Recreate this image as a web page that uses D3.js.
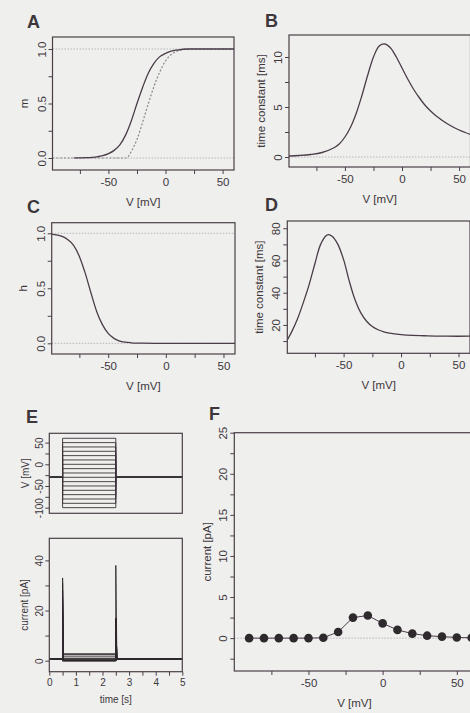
<!DOCTYPE html>
<html><head><meta charset="utf-8">
<script src="https://cdn.jsdelivr.net/npm/d3@7"></script>
<style>
body{margin:0;background:#efefed}
svg{display:block}
text{font-family:"Liberation Sans",Arial,Helvetica,sans-serif;fill:#3d373c}
</style>
</head><body><svg id="c" width="470" height="713"></svg>
<script>
// ---------- DATA ----------
// Panel A: activation m (solid = steady state, dotted = second curve)
const mSolidV   = [-80,-70,-60,-55,-50,-45,-40,-35,-30,-25,-20,-15,-10,-5,0,5,10,20,30,40,60];
const mSolidVal = [0.001,0.003,0.011,0.021,0.04,0.07,0.12,0.21,0.34,0.5,0.65,0.78,0.87,0.93,0.96,0.98,0.99,1.0,1.0,1.0,1.0];
const mDotV     = [-99,-35,-33,-30,-25,-20,-15,-10,-5,0,5,10,15,20,40,60];
const mDotVal   = [0,0,0.01,0.06,0.17,0.33,0.50,0.66,0.79,0.89,0.95,0.98,0.995,1.0,1.0,1.0];
// Panel B: activation time constant [ms]
const tauMV   = [-99,-90,-80,-70,-60,-55,-50,-45,-40,-35,-30,-25,-20,-15,-10,-5,0,5,10,15,20,25,30,40,50,60];
const tauMVal = [0.1,0.15,0.25,0.45,0.9,1.3,2.0,3.0,4.4,6.2,8.2,10.0,11.1,11.3,10.9,10.0,8.9,7.8,6.8,5.95,5.2,4.6,4.1,3.3,2.7,2.25];
// Panel C: inactivation h
const hV   = [-99,-95,-90,-85,-80,-75,-70,-65,-60,-55,-50,-45,-40,-35,-30,-20,-10,0,60];
const hVal = [0.993,0.986,0.971,0.942,0.89,0.79,0.64,0.46,0.29,0.17,0.09,0.045,0.02,0.01,0.005,0.001,0,0,0];
// Panel D: inactivation time constant [ms]
const tauHV   = [-99,-95,-90,-85,-80,-75,-70,-65,-63,-60,-55,-50,-45,-40,-35,-30,-25,-20,-15,-10,0,10,20,30,40,60];
const tauHVal = [10.7,16,24,34,45,58,70,75.5,76,75,70,60.5,47,35.5,27.5,22.3,19,17,15.7,14.9,14.0,13.5,13.3,13.1,13,13];
// Panel E: voltage-clamp protocol and currents
const eStepV     = [-100,-90,-80,-70,-60,-50,-40,-30,-20,-10,0,10,20,30,40,50,60];
const eSteadyI   = [0,0,0,0,0,0,0.05,0.75,2.5,2.75,1.8,1.0,0.55,0.3,0.18,0.08,0.04];
const eOnPeak    = [0,0,0,0,0,0,0.5,2,6,10,14,18,22,25,28,31,33];
const eOffPeak   = [0,0,0,0,0,0,0.7,4,9,13,15,16,17,17,17,17,38];
const eHoldV = -30, eHoldI = 0.7;
const eTimes = [0, 0.5, 2.5, 5];   // start, step on, step off, end [s]
// Panel F: steady-state current vs voltage
const fV = [-90,-80,-70,-60,-50,-40,-30,-20,-10,0,10,20,30,40,50,60];
const fI = [0,0,0,0,0,0.05,0.75,2.5,2.75,1.8,1.0,0.55,0.3,0.18,0.08,0.04];
// Tick values
const vTicks = [-75,-50,-25,0,25,50], vLabels = [-50,0,50];

// ---------- DRAW ----------
const FR = "#4a3f47", LN = "#4a3d48", TX = "#3d373c", REF = "#b9b5b9";
const svg = d3.select("#c");
svg.append("rect").attr("width",470).attr("height",713).attr("fill","#efefed");

function panel(o){
  const x = d3.scaleLinear().domain(o.xd).range([o.l,o.r]);
  const y = d3.scaleLinear().domain(o.yd).range([o.b,o.t]);
  const cid = "clip-"+o.id;
  svg.append("clipPath").attr("id",cid).append("rect")
    .attr("x",o.l).attr("y",o.t).attr("width",o.r-o.l).attr("height",o.b-o.t);
  const plot = svg.append("g").attr("clip-path",`url(#${cid})`);
  const fs = o.fs || 11.5;
  const xf = o.xf || (d=>String(d));
  const yf = o.yf || (d=>String(d));
  const xg = svg.append("g").attr("transform",`translate(0,${o.b})`)
    .call(d3.axisBottom(x).tickValues(o.xt).tickSize(4).tickPadding(o.xpad||4)
      .tickFormat(d=>o.xl.includes(d)?xf(d):""));
  xg.select(".domain").remove();
  xg.selectAll("line").attr("stroke",FR);
  xg.selectAll("text").style("font-size",fs+"px").attr("fill",TX);
  const yg = svg.append("g").attr("transform",`translate(${o.l},0)`)
    .call(d3.axisLeft(y).tickValues(o.yt).tickSize(4)
      .tickFormat(d=>o.yl.includes(d)?yf(d):""));
  yg.select(".domain").remove();
  yg.selectAll("line").attr("stroke",FR);
  yg.selectAll("text").attr("transform","rotate(-90)").attr("x",0).attr("y",-(o.yoff||7))
    .attr("dy",0).attr("text-anchor","middle").style("font-size",fs+"px").attr("fill",TX);
  // titles
  svg.append("text").attr("x",(o.l+o.r)/2).attr("y",o.b+(o.xto||35.5))
    .attr("text-anchor","middle").style("font-size",(o.tfs||fs)+"px").text(o.xtitle);
  svg.append("text").attr("transform",`translate(${o.l-(o.yto||25)},${(o.t+o.b)/2}) rotate(-90)`)
    .attr("text-anchor","middle").style("font-size",(o.tfs||fs)+"px").text(o.ytitle);
  return {x,y,plot,frame:()=>svg.append("rect").attr("x",o.l).attr("y",o.t)
    .attr("width",o.r-o.l).attr("height",o.b-o.t).attr("fill","none").attr("stroke",FR).attr("stroke-width",1.2)};
}
function refLine(p,v){
  p.plot.append("line").attr("x1",p.x.range()[0]).attr("x2",p.x.range()[1])
    .attr("y1",p.y(v)).attr("y2",p.y(v)).attr("stroke",REF).attr("stroke-width",1)
    .attr("stroke-dasharray","1.5,1.5");
}
function curve(p,xs,ys,opt={}){
  const line = d3.line().x(d=>p.x(d[0])).y(d=>p.y(d[1])).curve(opt.curve||d3.curveMonotoneX);
  p.plot.append("path").attr("d",line(xs.map((v,i)=>[v,ys[i]])))
    .attr("fill","none").attr("stroke",opt.color||LN).attr("stroke-width",opt.w||1.3)
    .attr("stroke-dasharray",opt.dash||null);
}
function letter(t,x,y){
  svg.append("text").attr("x",x).attr("y",y).style("font-size","18px").style("font-weight","bold")
    .attr("fill","#2f2a2e").text(t);
}
const f1 = d3.format(".1f");
const smooth = d3.curveCatmullRom.alpha(0.5);

// A
const pA = panel({id:"A",l:52.5,r:234,t:37,b:170,xd:[-99,60],yd:[-0.11,1.11],
  xt:vTicks,xl:vLabels,yt:[0,0.25,0.5,0.75,1],yl:[0,0.5,1],yf:f1,xtitle:"V [mV]",ytitle:"m"});
refLine(pA,0); refLine(pA,1);
curve(pA,mDotV,mDotVal,{dash:"2,1.8",color:"#8d8590",w:1.2});
curve(pA,mSolidV,mSolidVal);
pA.frame();
letter("A",27,28);

// B
const pB = panel({id:"B",l:289,r:470.5,t:35,b:167,xd:[-99,60],yd:[-1.0,12.2],
  xt:vTicks,xl:vLabels,yt:[0,2.5,5,7.5,10],yl:[0,5,10],xtitle:"V [mV]",ytitle:"time constant [ms]",yto:24});
refLine(pB,0);
curve(pB,tauMV,tauMVal,{curve:smooth});
pB.frame();
letter("B",265,26.5);

// C
const pC = panel({id:"C",l:51.7,r:235,t:222.7,b:354,xd:[-99,60],yd:[-0.097,1.096],
  xt:vTicks,xl:vLabels,yt:[0,0.25,0.5,0.75,1],yl:[0,0.5,1],yf:f1,xtitle:"V [mV]",ytitle:"h"});
refLine(pC,0); refLine(pC,1);
curve(pC,hV,hVal);
pC.frame();
letter("C",27,213);

// D
const pD = panel({id:"D",l:287.3,r:470,t:221,b:353.3,xd:[-99,60],yd:[2.4,84.5],
  xt:vTicks,xl:vLabels,yt:[10,20,30,40,50,60,70,80],yl:[20,40,60,80],xtitle:"V [mV]",ytitle:"time constant [ms]",yto:24});
curve(pD,tauHV,tauHVal,{curve:smooth});
pD.frame();
letter("D",265,211);

// E top: voltage protocol
const pE1 = panel({id:"E1",l:49.3,r:182.3,t:433.3,b:513.3,xd:[0,5],yd:[-113,71.5],
  xt:[],xl:[],yt:[-100,-75,-50,-25,0,25,50],yl:[-100,-50,0,50],xtitle:"",ytitle:"V [mV]",fs:10,yto:20,yoff:6});
eStepV.forEach(v=>{
  const ts=[eTimes[0],eTimes[1],eTimes[1],eTimes[2],eTimes[2],eTimes[3]];
  const vs=[eHoldV,eHoldV,v,v,eHoldV,eHoldV];
  curve(pE1,ts,vs,{curve:d3.curveLinear,w:0.9,color:"#3a3238"});
});
pE1.frame();
letter("E",26,423);

// E bottom: currents
const pE2 = panel({id:"E2",l:49.3,r:182.3,t:538.3,b:671.7,xd:[0,5],yd:[-4.4,48.8],
  xt:[0,0.5,1,1.5,2,2.5,3,3.5,4,4.5,5],xl:[0,1,2,3,4,5],yt:[0,10,20,30,40],yl:[0,20,40],
  xtitle:"time [s]",ytitle:"current [pA]",fs:10,yto:21,yoff:6,xto:31,xpad:3});
eStepV.forEach((v,i)=>{
  const ts=[eTimes[0],eTimes[1],eTimes[1],eTimes[1]+0.03,eTimes[2],eTimes[2],eTimes[2]+0.04,eTimes[3]];
  const is=[eHoldI,eHoldI,eOnPeak[i],eSteadyI[i],eSteadyI[i],eOffPeak[i],eHoldI,eHoldI];
  curve(pE2,ts,is,{curve:d3.curveLinear,w:0.9,color:"#2f292e"});
});
pE2.frame();

// F
const pF = panel({id:"F",l:234.3,r:474.6,t:432.7,b:671,xd:[-100,62],yd:[-4,25],
  xt:vTicks,xl:vLabels,yt:[-2.5,0,2.5,5,7.5,10,12.5,15,17.5,20,22.5,25],yl:[0,5,10,15,20,25],
  xtitle:"V [mV]",ytitle:"current [pA]",yto:23,xto:36});
refLine(pF,0);
curve(pF,fV,fI,{curve:d3.curveLinear,w:1});
pF.plot.selectAll("circle.pt").data(fV).enter().append("circle").attr("class","pt")
  .attr("cx",(d)=>pF.x(d)).attr("cy",(d,i)=>pF.y(fI[i])).attr("r",4.3).attr("fill","#2e292d");
pF.frame();
letter("F",209,420);
</script>
</body></html>
